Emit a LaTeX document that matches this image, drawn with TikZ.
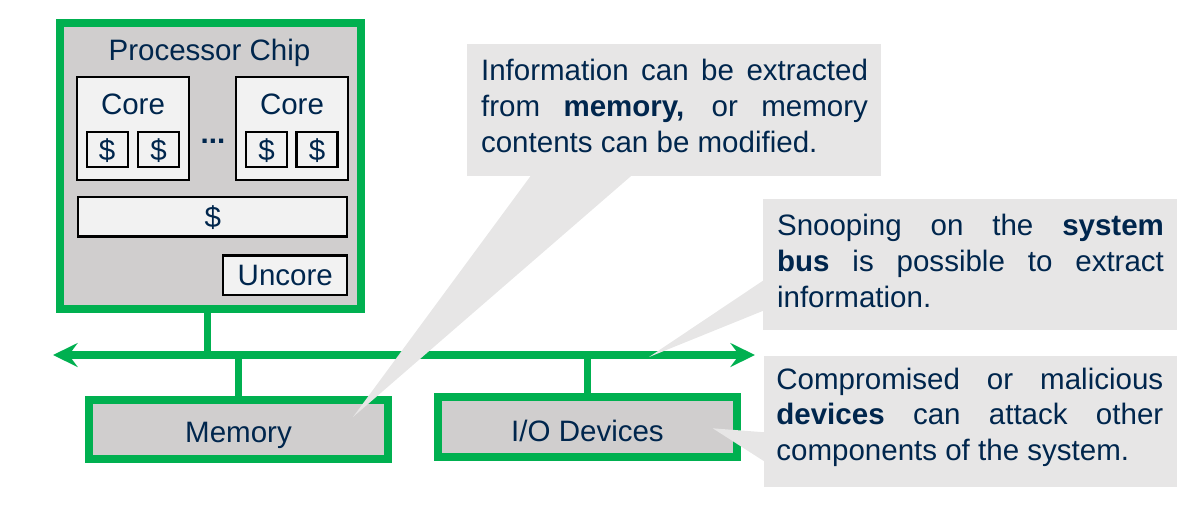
\documentclass[tikz,border=0pt]{standalone}
\usepackage{fontspec}
\setmainfont{Liberation Sans}
\usetikzlibrary{arrows.meta}
\definecolor{busgreen}{RGB}{0,176,80}
\definecolor{boxgray}{RGB}{208,206,206}
\definecolor{cachegray}{RGB}{242,242,242}
\definecolor{notegray}{RGB}{231,230,230}
\definecolor{inkblue}{RGB}{0,38,77}
\tolerance=10000
\hbadness=10000

\begin{document}
\begin{tikzpicture}[x=0.02cm,y=-0.02cm,
    every node/.style={font=\fontsize{16.8}{20.3}\selectfont, text=inkblue},
    greenbox/.style={draw=busgreen, line width=4.5pt, fill=boxgray, inner sep=0pt, text height=14.3pt, text depth=0pt},
    cachebox/.style={draw=black, line width=1.2pt, fill=cachegray, inner sep=0pt, text depth=0pt},
    wire/.style={draw=busgreen, line width=4.5pt},
    note/.style={fill=notegray, inner sep=0pt},
    notetext/.style={text width=7.74cm, align=justify, inner sep=0pt, anchor=base west},
    >={Stealth[length=14pt,width=13.6pt,inset=5pt]}]
            \useasboundingbox (0,0) rectangle (1195,505);
            \begin{scope}
                \node[greenbox, minimum width=6.02cm, minimum height=5.71cm] (chip) at (210.5,165.9) {};
                \node[anchor=base] (chiplbl) at (209.5,60) {Processor Chip};
                \node[cachebox, minimum width=2.25cm, minimum height=2.05cm] (core1) at (133,128.4) {};
                \node[cachebox, minimum width=2.23cm, minimum height=2.05cm] (core2) at (292,128.4) {};
                \node[anchor=base] (core1lbl) at (133,114) {Core};
                \node[anchor=base] (core2lbl) at (292,114) {Core};
                \node[cachebox, minimum width=0.82cm, minimum height=0.71cm] (l1a) at (107.2,149.3) {\$};
                \node[cachebox, minimum width=0.82cm, minimum height=0.71cm] (l1b) at (158.5,149.3) {\$};
                \node[cachebox, minimum width=0.82cm, minimum height=0.71cm] (l1c) at (266.7,149.3) {\$};
                \node[cachebox, minimum width=0.82cm, minimum height=0.71cm] (l1d) at (317,149.3) {\$};
                \node[anchor=base] (dots) at (213,143) {\textbf{...}};
                \node[cachebox, minimum width=5.38cm, minimum height=0.79cm] (llc) at (212.8,216.7) {\$};
                \node[cachebox, minimum width=2.48cm, minimum height=0.79cm] (uncore) at (285.3,275.2) {Uncore};
            \end{scope}
            \begin{scope}
                \coordinate (busL) at (53,355);
                \coordinate (busR) at (755,355);
                \coordinate (chipfoot) at ([xshift=-0.06cm]chip.south);
                \node[greenbox, minimum width=5.98cm, minimum height=1.18cm] (mem) at (238.5,429.5) {Memory};
                \node[greenbox, minimum width=5.98cm, minimum height=1.2cm, text height=17pt] (io) at (587.5,427) {I/O Devices};
                \draw[wire] (chipfoot) -- (chipfoot |- busL);
                \draw[wire] (mem.north) -- (mem.north |- busL);
                \draw[wire] (io.north) -- (io.north |- busL);
                \draw[wire, <->] (busL) -- (busR);
            \end{scope}
            \begin{scope}
                \coordinate (memtip) at (353,417);
                \coordinate (bustip) at (649,357);
                \coordinate (iotip) at (712.7,428.3);
                \fill[notegray] (535,170) -- (memtip) -- (638,170) -- cycle;
                \fill[notegray] (770,276) -- (bustip) -- (770,308) -- cycle;
                \fill[notegray] (770,432.7) -- (iotip) -- (770,465) -- cycle;
                \node[note, minimum width=8.27cm, minimum height=2.634cm] (memnote) at (674,109.85) {};
                \node[note, minimum width=8.27cm, minimum height=2.614cm] (busnote) at (970,264.65) {};
                \node[note, minimum width=8.25cm, minimum height=2.626cm] (ionote) at (970.3,421.65) {};
                \node[notetext] (memtext) at (480.7,80.7) {Information can be extracted\linebreak from \textbf{memory,} or memory\linebreak contents can be modified.};
                \node[notetext] (bustext) at (776.7,235.7) {Snooping on the \textbf{system}\linebreak \textbf{bus} is possible to extract\linebreak information.};
                \node[notetext] (iotext) at (776,389) {Compromised or malicious\linebreak \textbf{devices} can attack other\linebreak components of the system.};
            \end{scope}
        \end{tikzpicture}
\end{document}
